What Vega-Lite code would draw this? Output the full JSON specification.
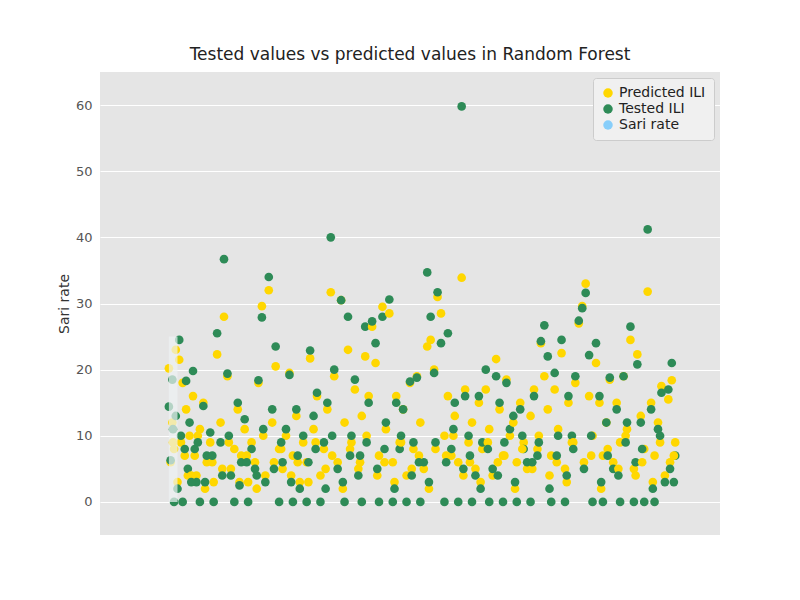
{
"$schema":"https://vega.github.io/schema/vega-lite/v6.json",
"width":620,"height":463,
"padding":{"left":100,"top":72,"right":80,"bottom":65},
"autosize":{"type":"none"},
"background":"white",
"config":{"view":{"fill":"#E5E5E5","stroke":null},"font":"DejaVu Sans","axis":{"gridColor":"white","domain":false,"ticks":false,"labelColor":"#555","labelFontSize":13,"titleFontSize":14,"titleFontWeight":"normal","titleColor":"#333"}},
"title":{"text":"Tested values vs predicted values in Random Forest","fontSize":17,"fontWeight":"normal","color":"#222","offset":8},
"datasets":{"bars":[{"a":0,"b":2.5,"v":25}],
"pts":[
{"i":0,"p":20.2,"t":14.4},{"i":0.5,"p":6,"t":6.3},{"i":1,"p":12,"t":18.5},{"i":1.5,"p":8,"t":0},{"i":2,"p":23,"t":13},{"i":3,"p":21.5,"t":24.5},{"i":3.5,"p":9,"t":10},{"i":4,"p":18,"t":0},{"i":5,"p":14,"t":18.3},{"i":5.5,"p":4,"t":5},{"i":6,"p":10,"t":12},{"i":7,"p":16,"t":19.8},{"i":7.5,"p":7,"t":8},{"i":8,"p":4,"t":3},{"i":9,"p":11,"t":0},{"i":10,"p":15,"t":14.5},{"i":11,"p":6,"t":7},{"i":12,"p":9,"t":10.5},{"i":13,"p":3,"t":0},{"i":14,"p":22.3,"t":25.5},{"i":15,"p":12,"t":9},{"i":16,"p":28,"t":36.7},{"i":17,"p":19,"t":19.4},{"i":18,"p":5,"t":4},{"i":19,"p":8,"t":0},{"i":20,"p":14,"t":15},{"i":21,"p":7,"t":6},{"i":22,"p":11,"t":12.5},{"i":23,"p":3,"t":0},{"i":24,"p":9,"t":8},{"i":25,"p":6,"t":5},{"i":26,"p":18,"t":18.4},{"i":27,"p":29.6,"t":27.9},{"i":28,"p":4,"t":3},{"i":29,"p":32,"t":34},{"i":30,"p":12,"t":14},{"i":31,"p":20.5,"t":23.5},{"i":32,"p":8,"t":0},{"i":33,"p":5,"t":6},{"i":34,"p":10,"t":11},{"i":35,"p":19.5,"t":19.2},{"i":36,"p":7,"t":0},{"i":37,"p":13,"t":14},{"i":38,"p":3,"t":2},{"i":39,"p":9,"t":10},{"i":40,"p":6,"t":0},{"i":41,"p":21.7,"t":22.9},{"i":42,"p":11,"t":13},{"i":43,"p":16,"t":16.5},{"i":44,"p":4,"t":0},{"i":45,"p":8,"t":9},{"i":46,"p":14,"t":15},{"i":47,"p":31.7,"t":40},{"i":48,"p":19,"t":20},{"i":49,"p":6,"t":5},{"i":50,"p":30.5,"t":30.5},{"i":51,"p":12,"t":0},{"i":52,"p":23,"t":28},{"i":53,"p":9,"t":10},{"i":54,"p":17,"t":18.5},{"i":55,"p":5,"t":4},{"i":56,"p":13,"t":0},{"i":57,"p":22,"t":26.5},{"i":58,"p":16,"t":15},{"i":59,"p":26.5,"t":27.3},{"i":60,"p":21,"t":24},{"i":61,"p":7,"t":0},{"i":62,"p":29.5,"t":28},{"i":63,"p":11,"t":12},{"i":64,"p":28.5,"t":30.6},{"i":65,"p":6,"t":0},{"i":66,"p":16,"t":15},{"i":67,"p":9,"t":8},{"i":68,"p":14,"t":14},{"i":69,"p":4,"t":0},{"i":70,"p":18,"t":18.2},{"i":71,"p":8,"t":9},{"i":72,"p":19,"t":18.8},{"i":73,"p":12,"t":0},{"i":74,"p":5,"t":6},{"i":75,"p":23.5,"t":34.7},{"i":76,"p":24.5,"t":28},{"i":77,"p":20,"t":19.5},{"i":78,"p":31,"t":31.7},{"i":79,"p":28.5,"t":24},{"i":80,"p":10,"t":0},{"i":81,"p":16,"t":25.5},{"i":82,"p":7,"t":8},{"i":83,"p":13,"t":15},{"i":84,"p":6,"t":0},{"i":85,"p":33.9,"t":59.8},{"i":86,"p":17,"t":16},{"i":87,"p":9,"t":10},{"i":88,"p":12,"t":0},{"i":89,"p":5,"t":4},{"i":90,"p":15,"t":16},{"i":91,"p":8,"t":9},{"i":92,"p":17,"t":20},{"i":93,"p":11,"t":0},{"i":94,"p":4,"t":5},{"i":95,"p":21.6,"t":19},{"i":96,"p":14,"t":15},{"i":97,"p":7,"t":0},{"i":98,"p":18.5,"t":18},{"i":99,"p":10,"t":11},{"i":100,"p":12,"t":13},{"i":101,"p":6,"t":0},{"i":102,"p":15,"t":14},{"i":103,"p":9,"t":8},{"i":104,"p":5,"t":6},{"i":105,"p":13,"t":0},{"i":106,"p":17,"t":16},{"i":107,"p":8,"t":7},{"i":108,"p":24,"t":24.3},{"i":109,"p":19,"t":26.7},{"i":110,"p":14,"t":22},{"i":111,"p":7,"t":0},{"i":112,"p":17,"t":19.5},{"i":113,"p":11,"t":10},{"i":114,"p":22.5,"t":24.5},{"i":115,"p":5,"t":0},{"i":116,"p":15,"t":16},{"i":117,"p":9,"t":10},{"i":118,"p":18,"t":19},{"i":119,"p":27,"t":27.4},{"i":120,"p":29.6,"t":29.3},{"i":121,"p":33,"t":31.6},{"i":122,"p":16,"t":22.2},{"i":123,"p":10,"t":0},{"i":124,"p":21,"t":24},{"i":125,"p":15,"t":16},{"i":126,"p":7,"t":0},{"i":127,"p":12,"t":12},{"i":128,"p":18.5,"t":18.8},{"i":129,"p":6,"t":5},{"i":130,"p":15,"t":14},{"i":131,"p":9,"t":0},{"i":132,"p":19,"t":19},{"i":133,"p":11,"t":12},{"i":134,"p":24.5,"t":26.5},{"i":135,"p":5,"t":0},{"i":136,"p":22.3,"t":20.8},{"i":137,"p":13,"t":12},{"i":138,"p":8,"t":0},{"i":139,"p":31.8,"t":41.2},{"i":140,"p":15,"t":14},{"i":141,"p":7,"t":0},{"i":142,"p":12,"t":11},{"i":143,"p":17.5,"t":16.5},{"i":144,"p":4,"t":3},{"i":145,"p":15.5,"t":17},{"i":146,"p":18.4,"t":21},{"i":147,"p":9,"t":7},
{"i":2.5,"p":3,"t":2},{"i":6.5,"p":4,"t":3},{"i":10.5,"p":2,"t":3},{"i":15.5,"p":5,"t":4},{"i":20.5,"p":3,"t":2.5},{"i":25.5,"p":2,"t":4},{"i":30.5,"p":6,"t":5},{"i":35.5,"p":4,"t":3},{"i":40.5,"p":3,"t":6},{"i":45.5,"p":5,"t":2},{"i":50.5,"p":2,"t":3},{"i":55.5,"p":6,"t":7},{"i":60.5,"p":4,"t":5},{"i":65.5,"p":3,"t":2},{"i":70.5,"p":5,"t":4},{"i":75.5,"p":2,"t":3},{"i":80.5,"p":7,"t":6},{"i":85.5,"p":4,"t":5},{"i":90.5,"p":3,"t":2},{"i":95.5,"p":6,"t":4},{"i":100.5,"p":2,"t":3},{"i":105.5,"p":5,"t":6},{"i":110.5,"p":4,"t":2},{"i":115.5,"p":3,"t":4},{"i":120.5,"p":6,"t":5},{"i":125.5,"p":2,"t":3},{"i":130.5,"p":5,"t":4},{"i":135.5,"p":4,"t":6},{"i":140.5,"p":3,"t":2},{"i":145.5,"p":6,"t":5},
{"i":1.2,"p":9,"t":11},{"i":4.6,"p":7,"t":8},{"i":8.4,"p":10,"t":9},{"i":12.6,"p":6,"t":7},{"i":17.4,"p":9,"t":10},{"i":22.6,"p":7,"t":6},{"i":27.4,"p":10,"t":11},{"i":32.6,"p":8,"t":9},{"i":37.4,"p":6,"t":7},{"i":42.6,"p":9,"t":8},{"i":47.4,"p":7,"t":10},{"i":52.6,"p":8,"t":7},{"i":57.4,"p":10,"t":9},{"i":62.6,"p":6,"t":8},{"i":67.4,"p":9,"t":10},{"i":72.6,"p":7,"t":6},{"i":77.4,"p":8,"t":9},{"i":82.6,"p":10,"t":11},{"i":87.4,"p":6,"t":7},{"i":92.6,"p":9,"t":8},{"i":97.4,"p":7,"t":9},{"i":102.6,"p":8,"t":10},{"i":107.4,"p":10,"t":9},{"i":112.6,"p":6,"t":7},{"i":117.4,"p":9,"t":8},{"i":122.6,"p":7,"t":10},{"i":127.4,"p":8,"t":7},{"i":132.6,"p":10,"t":9},{"i":137.4,"p":6,"t":8},{"i":142.6,"p":9,"t":10},{"i":146.6,"p":7,"t":3}
]},
"layer":[
{"data":{"name":"pts"},"transform":[{"fold":["p","t"],"as":["s","val"]},{"lookup":"s","from":{"data":{"values":[{"s":"p","k":"Predicted ILI"},{"s":"t","k":"Tested ILI"}]},"key":"s","fields":["k"]}}],
"mark":{"type":"circle","opacity":1,"size":75},
"encoding":{"x":{"field":"i","type":"quantitative","scale":{"domain":[-8,160]},"axis":{"labels":false,"grid":false,"title":null}},"y":{"field":"val","type":"quantitative","scale":{"domain":[-3.4,63]},"axis":{"title":"Sari rate","values":[0,10,20,30,40,50,60],"labelPadding":8}},
"color":{"field":"k","type":"nominal","scale":{"domain":["Predicted ILI","Tested ILI","Sari rate"],"range":["#FFD700","#2E8B57","#87CEFA"]},"legend":{"title":null,"orient":"top-right","offset":6,"fillColor":"#F0F0F0","strokeColor":"#CCC","padding":8,"labelFontSize":14,"labelColor":"#222","symbolSize":90,"symbolOpacity":1,"cornerRadius":3}}}},
{"data":{"name":"bars"},"mark":{"type":"rect","color":"#EEF2F4","opacity":0.7},
"encoding":{"x":{"field":"a","type":"quantitative"},"x2":{"field":"b"},"y":{"field":"v","type":"quantitative"},"y2":{"datum":0}}}
]}
